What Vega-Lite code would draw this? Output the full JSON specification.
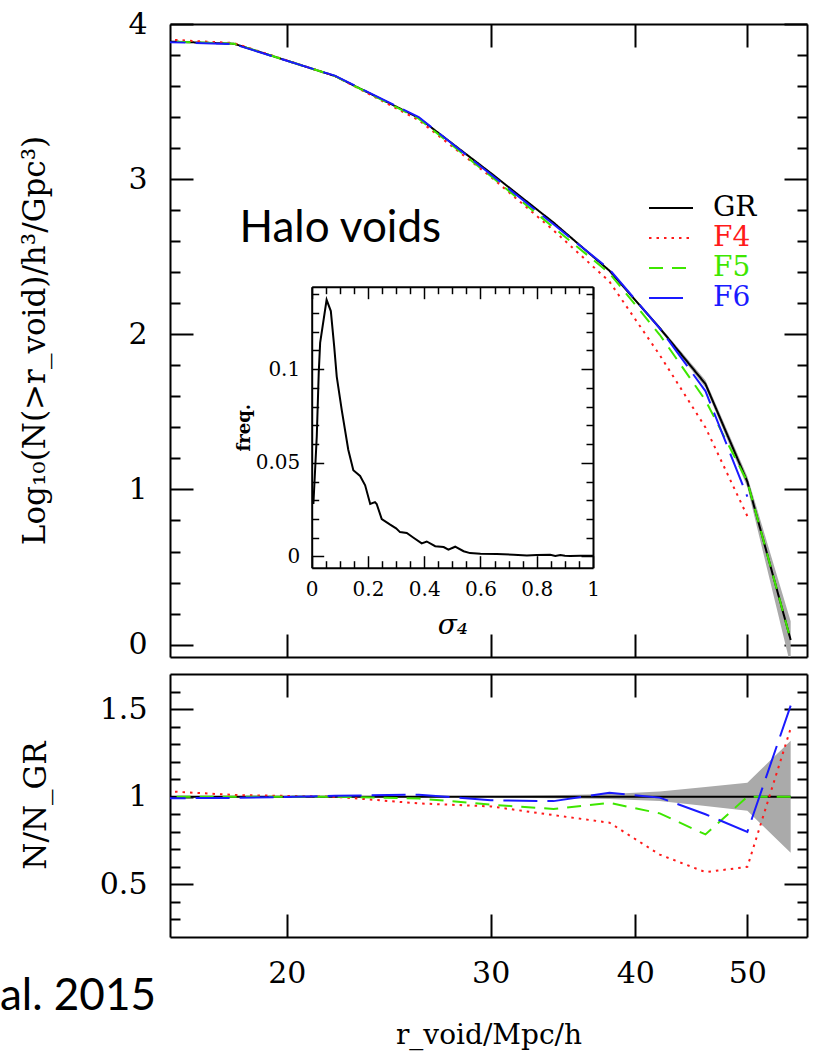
{
  "$schema": "https://vega.github.io/schema/vega-lite/v6.json",
  "autosize": {"type": "none"},
  "padding": {"left": 170, "top": 24, "right": 647, "bottom": 1036},
  "background": "white",
  "bounds": "flush",
  "spacing": 17,
  "config": {
    "view": {"stroke": null},
    "axis": {
      "grid": false,
      "domainColor": "black",
      "domainWidth": 2,
      "tickColor": "black",
      "tickWidth": 2,
      "labelFont": "DejaVu Serif",
      "labelFontSize": 30,
      "labelColor": "black",
      "labelFlush": false,
      "labelOverlap": false,
      "titleFont": "DejaVu Serif",
      "titleFontWeight": "normal",
      "titleColor": "black"
    }
  },
  "datasets": {
    "curves": [
      {"r": 14, "model": "GR", "logN": 3.90, "ratio": 1},
      {"r": 18, "model": "GR", "logN": 3.873, "ratio": 1},
      {"r": 22, "model": "GR", "logN": 3.665, "ratio": 1},
      {"r": 26, "model": "GR", "logN": 3.395, "ratio": 1},
      {"r": 30, "model": "GR", "logN": 3.04, "ratio": 1},
      {"r": 34, "model": "GR", "logN": 2.72, "ratio": 1},
      {"r": 38, "model": "GR", "logN": 2.41, "ratio": 1},
      {"r": 42, "model": "GR", "logN": 2.04, "ratio": 1},
      {"r": 46, "model": "GR", "logN": 1.68, "ratio": 1},
      {"r": 50, "model": "GR", "logN": 1.05, "ratio": 1},
      {"r": 54.5, "model": "GR", "logN": 0.03, "ratio": 1},
      {"r": 14, "model": "F4", "logN": 3.92, "ratio": 1.05},
      {"r": 18, "model": "F4", "logN": 3.877, "ratio": 1.01},
      {"r": 22, "model": "F4", "logN": 3.665, "ratio": 1.0},
      {"r": 26, "model": "F4", "logN": 3.38, "ratio": 0.962},
      {"r": 30, "model": "F4", "logN": 3.016, "ratio": 0.945},
      {"r": 34, "model": "F4", "logN": 2.67, "ratio": 0.895},
      {"r": 38, "model": "F4", "logN": 2.34, "ratio": 0.852},
      {"r": 42, "model": "F4", "logN": 1.866, "ratio": 0.67},
      {"r": 46, "model": "F4", "logN": 1.40, "ratio": 0.57},
      {"r": 50, "model": "F4", "logN": 0.828, "ratio": 0.6},
      {"r": 54.5, "model": "F4", "logN": null, "ratio": 1.39},
      {"r": 14, "model": "F5", "logN": 3.90, "ratio": 1.0},
      {"r": 18, "model": "F5", "logN": 3.873, "ratio": 1.0},
      {"r": 22, "model": "F5", "logN": 3.665, "ratio": 1.0},
      {"r": 26, "model": "F5", "logN": 3.39, "ratio": 0.99},
      {"r": 30, "model": "F5", "logN": 3.02, "ratio": 0.955},
      {"r": 34, "model": "F5", "logN": 2.689, "ratio": 0.93},
      {"r": 38, "model": "F5", "logN": 2.394, "ratio": 0.965},
      {"r": 42, "model": "F5", "logN": 1.997, "ratio": 0.905},
      {"r": 46, "model": "F5", "logN": 1.575, "ratio": 0.785},
      {"r": 50, "model": "F5", "logN": 1.05, "ratio": 1.0},
      {"r": 54.5, "model": "F5", "logN": 0.03, "ratio": 1.0},
      {"r": 14, "model": "F6", "logN": 3.896, "ratio": 0.99},
      {"r": 18, "model": "F6", "logN": 3.870, "ratio": 0.993},
      {"r": 22, "model": "F6", "logN": 3.667, "ratio": 1.005},
      {"r": 26, "model": "F6", "logN": 3.40, "ratio": 1.012},
      {"r": 30, "model": "F6", "logN": 3.031, "ratio": 0.98},
      {"r": 34, "model": "F6", "logN": 2.709, "ratio": 0.975},
      {"r": 38, "model": "F6", "logN": 2.419, "ratio": 1.022},
      {"r": 42, "model": "F6", "logN": 2.038, "ratio": 0.995},
      {"r": 46, "model": "F6", "logN": 1.634, "ratio": 0.9},
      {"r": 50, "model": "F6", "logN": 0.953, "ratio": 0.8},
      {"r": 54.5, "model": "F6", "logN": null, "ratio": 1.52}
    ],
    "band": [
      {"r": 14, "lo": 3.898, "hi": 3.902, "rlo": 0.996, "rhi": 1.004},
      {"r": 18, "lo": 3.871, "hi": 3.875, "rlo": 0.996, "rhi": 1.004},
      {"r": 22, "lo": 3.663, "hi": 3.667, "rlo": 0.996, "rhi": 1.004},
      {"r": 26, "lo": 3.393, "hi": 3.397, "rlo": 0.996, "rhi": 1.004},
      {"r": 30, "lo": 3.038, "hi": 3.042, "rlo": 0.995, "rhi": 1.005},
      {"r": 34, "lo": 2.717, "hi": 2.723, "rlo": 0.992, "rhi": 1.008},
      {"r": 38, "lo": 2.404, "hi": 2.416, "rlo": 0.987, "rhi": 1.015},
      {"r": 42, "lo": 2.028, "hi": 2.052, "rlo": 0.975, "rhi": 1.03},
      {"r": 46, "lo": 1.657, "hi": 1.703, "rlo": 0.947, "rhi": 1.055},
      {"r": 50, "lo": 1.014, "hi": 1.083, "rlo": 0.92, "rhi": 1.08},
      {"r": 54.5, "lo": -0.138, "hi": 0.151, "rlo": 0.68, "rhi": 1.32}
    ],
    "inset": [
      {"s": 0.006, "f": 0.028}, {"s": 0.018, "f": 0.064}, {"s": 0.025, "f": 0.098},
      {"s": 0.03, "f": 0.114}, {"s": 0.053, "f": 0.137}, {"s": 0.068, "f": 0.131},
      {"s": 0.08, "f": 0.112}, {"s": 0.089, "f": 0.096}, {"s": 0.107, "f": 0.078},
      {"s": 0.13, "f": 0.057}, {"s": 0.148, "f": 0.046}, {"s": 0.172, "f": 0.043},
      {"s": 0.19, "f": 0.038}, {"s": 0.208, "f": 0.028}, {"s": 0.225, "f": 0.029},
      {"s": 0.231, "f": 0.028}, {"s": 0.249, "f": 0.020}, {"s": 0.279, "f": 0.017},
      {"s": 0.3, "f": 0.015}, {"s": 0.314, "f": 0.013}, {"s": 0.338, "f": 0.0125},
      {"s": 0.362, "f": 0.010}, {"s": 0.391, "f": 0.007}, {"s": 0.409, "f": 0.008},
      {"s": 0.439, "f": 0.0055}, {"s": 0.469, "f": 0.005}, {"s": 0.486, "f": 0.0036},
      {"s": 0.51, "f": 0.0052}, {"s": 0.54, "f": 0.0028}, {"s": 0.563, "f": 0.0018},
      {"s": 0.6, "f": 0.0014}, {"s": 0.658, "f": 0.0013}, {"s": 0.718, "f": 0.0009},
      {"s": 0.765, "f": 0.0005}, {"s": 0.8, "f": 0.0008}, {"s": 0.848, "f": 0.0009},
      {"s": 0.866, "f": 0.0003}, {"s": 0.884, "f": 0.0008}, {"s": 0.9, "f": 0.0004},
      {"s": 0.919, "f": 0.0003}, {"s": 0.955, "f": 0.0004}, {"s": 1.0, "f": 0.0004}
    ]
  },
  "vconcat": [
    {
      "width": 637,
      "height": 633,
      "resolve": {
        "scale": {"x": "independent", "y": "independent"},
        "axis": {"x": "independent", "y": "independent"}
      },
      "layer": [
        {
          "data": {"name": "band"},
          "mark": {"type": "area", "color": "#aaaaaa", "clip": true},
          "encoding": {
            "x": {
              "field": "r", "type": "quantitative",
              "scale": {"type": "log", "domain": [15.85, 56.3], "nice": false},
              "axis": {"orient": "bottom", "values": [20, 30, 40, 50], "labels": false, "tickSize": -23, "title": null}
            },
            "y": {
              "field": "lo", "type": "quantitative",
              "scale": {"domain": [-0.08, 4], "nice": false, "zero": false},
              "axis": {
                "orient": "left",
                "values": [0, 0.2, 0.4, 0.6, 0.8, 1, 1.2, 1.4, 1.6, 1.8, 2, 2.2, 2.4, 2.6, 2.8, 3, 3.2, 3.4, 3.6, 3.8, 4],
                "tickSize": {"condition": {"test": "datum.value % 1 === 0", "value": -23}, "value": -10},
                "labelExpr": "datum.value % 1 === 0 ? format(datum.value, 'd') : ''",
                "labelPadding": 46,
                "title": "Log₁₀(N(>r_void)/h³/Gpc³)",
                "titleFontSize": 31,
                "titleX": -119,
                "titleY": 316
              }
            },
            "y2": {"field": "hi"}
          }
        },
        {
          "data": {"name": "curves"},
          "mark": {"type": "line", "clip": true, "strokeWidth": 2},
          "encoding": {
            "x": {
              "field": "r", "type": "quantitative",
              "scale": {"type": "log", "domain": [15.85, 56.3], "nice": false},
              "axis": {"orient": "top", "values": [20, 30, 40, 50], "labels": false, "tickSize": -23, "title": null}
            },
            "y": {
              "field": "logN", "type": "quantitative",
              "scale": {"domain": [-0.08, 4], "nice": false, "zero": false},
              "axis": {
                "orient": "right",
                "values": [0, 0.2, 0.4, 0.6, 0.8, 1, 1.2, 1.4, 1.6, 1.8, 2, 2.2, 2.4, 2.6, 2.8, 3, 3.2, 3.4, 3.6, 3.8, 4],
                "tickSize": {"condition": {"test": "datum.value % 1 === 0", "value": -23}, "value": -10},
                "labels": false,
                "title": null
              }
            },
            "color": {
              "field": "model", "type": "nominal",
              "scale": {"domain": ["GR", "F4", "F5", "F6"], "range": ["black", "#ff1a1a", "#3ee600", "#1a1aff"]},
              "legend": {
                "orient": "none", "legendX": 478, "legendY": 169, "title": null, "padding": 0,
                "symbolType": "stroke", "symbolSize": 1936, "symbolStrokeWidth": 2,
                "clipHeight": 30, "rowPadding": 0,
                "labelFont": "DejaVu Serif", "labelFontSize": 28, "labelOffset": 19,
                "encode": {"labels": {"update": {"fill": {"signal": "datum.label === 'GR' ? 'black' : datum.label === 'F4' ? '#ff1a1a' : datum.label === 'F5' ? '#3ee600' : '#1a1aff'"}}}}
              }
            },
            "strokeDash": {
              "field": "model", "type": "nominal",
              "scale": {"domain": ["GR", "F4", "F5", "F6"], "range": [[1, 0], [2.5, 5], [14, 9], [34, 10]]},
              "legend": {
                "orient": "none", "legendX": 478, "legendY": 169, "title": null, "padding": 0,
                "symbolType": "stroke", "symbolSize": 1936, "symbolStrokeWidth": 2,
                "clipHeight": 30, "rowPadding": 0,
                "labelFont": "DejaVu Serif", "labelFontSize": 28, "labelOffset": 19,
                "encode": {"labels": {"update": {"fill": {"signal": "datum.label === 'GR' ? 'black' : datum.label === 'F4' ? '#ff1a1a' : datum.label === 'F5' ? '#3ee600' : '#1a1aff'"}}}}
              }
            }
          }
        },
        {
          "data": {"values": [{"label": "Halo voids", "r": 18.2, "v": 2.595}]},
          "mark": {"type": "text", "align": "left", "baseline": "alphabetic", "font": "Lato", "fontSize": 44, "color": "black"},
          "encoding": {
            "x": {"field": "r", "type": "quantitative", "scale": {"type": "log", "domain": [15.85, 56.3], "nice": false}, "axis": null},
            "y": {"field": "v", "type": "quantitative", "scale": {"domain": [-0.08, 4], "nice": false, "zero": false}, "axis": null},
            "text": {"field": "label"}
          }
        },
        {
          "data": {"name": "inset"},
          "mark": {"type": "line", "color": "black", "strokeWidth": 2},
          "encoding": {
            "x": {
              "field": "s", "type": "quantitative",
              "scale": {"domain": [0, 1], "range": [141.7, 423], "nice": false, "zero": false},
              "axis": {
                "orient": "bottom", "offset": -89.3,
                "values": [0, 0.05, 0.1, 0.15, 0.2, 0.25, 0.3, 0.35, 0.4, 0.45, 0.5, 0.55, 0.6, 0.65, 0.7, 0.75, 0.8, 0.85, 0.9, 0.95, 1],
                "tickSize": {"condition": {"test": "abs(datum.value*5 - round(datum.value*5)) < 1e-6", "value": -12}, "value": -7},
                "tickWidth": 1.5,
                "labelExpr": "abs(datum.value*5 - round(datum.value*5)) < 1e-6 ? format(datum.value, '~g') : ''",
                "labelPadding": 24, "labelFontSize": 20,
                "title": "σ₄", "titleFontSize": 28, "titleFontStyle": "italic",
                "titleBaseline": "top", "titleY": 44
              }
            },
            "y": {
              "field": "f", "type": "quantitative",
              "scale": {"domain": [-0.006, 0.144], "range": [543.7, 262.7], "nice": false, "zero": false},
              "axis": {
                "orient": "left", "offset": -141.7,
                "values": [0, 0.01, 0.02, 0.03, 0.04, 0.05, 0.06, 0.07, 0.08, 0.09, 0.1, 0.11, 0.12, 0.13, 0.14],
                "tickSize": {"condition": {"test": "abs(datum.value*20 - round(datum.value*20)) < 1e-6", "value": -12}, "value": -7},
                "tickWidth": 1.5,
                "labelExpr": "abs(datum.value*20 - round(datum.value*20)) < 1e-6 ? format(datum.value, '~g') : ''",
                "labelPadding": 24, "labelFontSize": 20,
                "title": "freq.", "titleFontSize": 18, "titleFontWeight": "bold",
                "titleX": -58
              }
            }
          }
        },
        {
          "data": {"name": "inset"},
          "mark": {"type": "line", "color": "black", "strokeOpacity": 0},
          "encoding": {
            "x": {
              "field": "s", "type": "quantitative",
              "scale": {"domain": [0, 1], "range": [141.7, 423], "nice": false, "zero": false},
              "axis": {
                "orient": "top", "offset": -262.7,
                "values": [0, 0.05, 0.1, 0.15, 0.2, 0.25, 0.3, 0.35, 0.4, 0.45, 0.5, 0.55, 0.6, 0.65, 0.7, 0.75, 0.8, 0.85, 0.9, 0.95, 1],
                "tickSize": {"condition": {"test": "abs(datum.value*5 - round(datum.value*5)) < 1e-6", "value": -12}, "value": -7},
                "tickWidth": 1.5, "labels": false, "title": null
              }
            },
            "y": {
              "field": "f", "type": "quantitative",
              "scale": {"domain": [-0.006, 0.144], "range": [543.7, 262.7], "nice": false, "zero": false},
              "axis": {
                "orient": "right", "offset": -214,
                "values": [0, 0.01, 0.02, 0.03, 0.04, 0.05, 0.06, 0.07, 0.08, 0.09, 0.1, 0.11, 0.12, 0.13, 0.14],
                "tickSize": {"condition": {"test": "abs(datum.value*20 - round(datum.value*20)) < 1e-6", "value": -12}, "value": -7},
                "tickWidth": 1.5, "labels": false, "title": null
              }
            }
          }
        }
      ]
    },
    {
      "width": 637,
      "height": 263,
      "resolve": {
        "scale": {"x": "independent", "y": "independent"},
        "axis": {"x": "independent", "y": "independent"}
      },
      "layer": [
        {
          "data": {"name": "band"},
          "mark": {"type": "area", "color": "#aaaaaa", "clip": true},
          "encoding": {
            "x": {
              "field": "r", "type": "quantitative",
              "scale": {"type": "log", "domain": [15.85, 56.3], "nice": false},
              "axis": {
                "orient": "bottom", "values": [20, 30, 40, 50], "format": "d", "tickSize": -23, "labelPadding": 44,
                "title": "r_void/Mpc/h", "titleFontSize": 28, "titleBaseline": "alphabetic", "titleY": 106
              }
            },
            "y": {
              "field": "rlo", "type": "quantitative",
              "scale": {"domain": [0.2, 1.7], "nice": false, "zero": false},
              "axis": {
                "orient": "left",
                "values": [0.3, 0.4, 0.5, 0.6, 0.7, 0.8, 0.9, 1, 1.1, 1.2, 1.3, 1.4, 1.5, 1.6],
                "tickSize": {"condition": {"test": "(datum.value * 2) % 1 === 0", "value": -23}, "value": -10},
                "labelExpr": "(datum.value * 2) % 1 === 0 ? format(datum.value, '~g') : ''",
                "labelPadding": 46,
                "title": "N/N_GR", "titleFontSize": 31, "titleX": -118, "titleY": 131
              }
            },
            "y2": {"field": "rhi"}
          }
        },
        {
          "data": {"name": "curves"},
          "mark": {"type": "line", "clip": true, "strokeWidth": 2},
          "encoding": {
            "x": {
              "field": "r", "type": "quantitative",
              "scale": {"type": "log", "domain": [15.85, 56.3], "nice": false},
              "axis": {"orient": "top", "values": [20, 30, 40, 50], "labels": false, "tickSize": -23, "title": null}
            },
            "y": {
              "field": "ratio", "type": "quantitative",
              "scale": {"domain": [0.2, 1.7], "nice": false, "zero": false},
              "axis": {
                "orient": "right",
                "values": [0.3, 0.4, 0.5, 0.6, 0.7, 0.8, 0.9, 1, 1.1, 1.2, 1.3, 1.4, 1.5, 1.6],
                "tickSize": {"condition": {"test": "(datum.value * 2) % 1 === 0", "value": -23}, "value": -10},
                "labels": false, "title": null
              }
            },
            "color": {
              "field": "model", "type": "nominal",
              "scale": {"domain": ["GR", "F4", "F5", "F6"], "range": ["black", "#ff1a1a", "#3ee600", "#1a1aff"]},
              "legend": null
            },
            "strokeDash": {
              "field": "model", "type": "nominal",
              "scale": {"domain": ["GR", "F4", "F5", "F6"], "range": [[1, 0], [2.5, 5], [14, 9], [34, 10]]},
              "legend": null
            }
          }
        },
        {
          "data": {"values": [{"label": "al. 2015", "r": 11.3, "v": -0.216}]},
          "mark": {"type": "text", "align": "left", "baseline": "alphabetic", "font": "Lato", "fontSize": 44, "color": "black"},
          "encoding": {
            "x": {"field": "r", "type": "quantitative", "scale": {"type": "log", "domain": [15.85, 56.3], "nice": false}, "axis": null},
            "y": {"field": "v", "type": "quantitative", "scale": {"domain": [0.2, 1.7], "nice": false, "zero": false}, "axis": null},
            "text": {"field": "label"}
          }
        }
      ]
    }
  ]
}
